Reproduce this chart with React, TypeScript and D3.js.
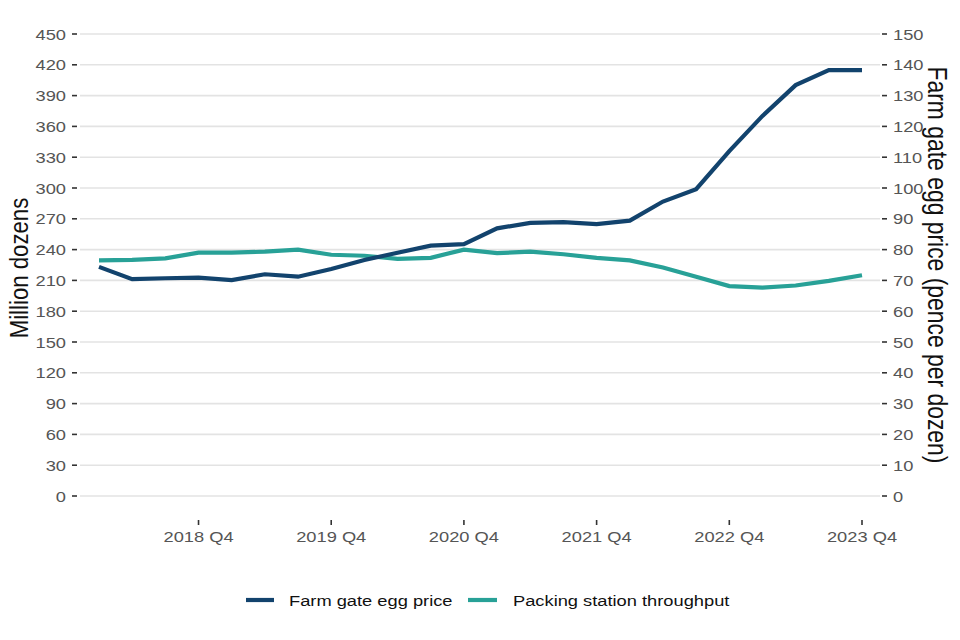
import React from "react";
import * as d3 from "d3";

const quarters = [
  "2018 Q1", "2018 Q2", "2018 Q3", "2018 Q4",
  "2019 Q1", "2019 Q2", "2019 Q3", "2019 Q4",
  "2020 Q1", "2020 Q2", "2020 Q3", "2020 Q4",
  "2021 Q1", "2021 Q2", "2021 Q3", "2021 Q4",
  "2022 Q1", "2022 Q2", "2022 Q3", "2022 Q4",
  "2023 Q1", "2023 Q2", "2023 Q3", "2023 Q4",
];

// pence per dozen (right axis)
const farmGatePrice = [
  74.4, 70.4, 70.7, 70.9,
  70.1, 72.0, 71.2, 73.7,
  76.6, 79.0, 81.3, 81.8,
  86.9, 88.7, 88.9, 88.3,
  89.4, 95.6, 99.6, 112.0,
  123.4, 133.4, 138.3, 138.3,
];

// million dozens (left axis)
const throughput = [
  229.5, 230, 231.5, 237,
  237, 238, 240, 235,
  234, 231, 232, 240,
  236.5, 238, 235.5, 232,
  229.5, 222.5, 213.5, 204.5,
  203, 205, 209.5, 215,
];

const xTickLabels = ["2018 Q4", "2019 Q4", "2020 Q4", "2021 Q4", "2022 Q4", "2023 Q4"];
const leftTicks = d3.range(0, 451, 30);
const rightTicks = d3.range(0, 151, 10);

const DARK = "#12436D";
const TEAL = "#28A197";
const FONT = "'Liberation Sans', Arial, sans-serif";
// text in the reference is a little wider than tall
const SX = 1.18;

export default function App() {
  const width = 960;
  const height = 640;
  const panel = { left: 80, right: 880 };

  const x = d3.scalePoint<string>().domain(quarters).range([99, 862]);
  const yLeft = d3.scaleLinear().domain([0, 450]).range([496, 34]);
  const yRight = d3.scaleLinear().domain([0, 150]).range([496, 34]);

  const priceLine = d3
    .line<number>()
    .x((_, i) => x(quarters[i])!)
    .y((d) => yRight(d));
  const throughputLine = d3
    .line<number>()
    .x((_, i) => x(quarters[i])!)
    .y((d) => yLeft(d));

  return (
    <svg
      width={width}
      height={height}
      style={{ position: "absolute", left: 0, top: 0, background: "#fff" }}
      fontFamily={FONT}
    >
      {/* grid */}
      {leftTicks.map((t) => (
        <line
          key={"g" + t}
          x1={panel.left}
          x2={panel.right}
          y1={yLeft(t)}
          y2={yLeft(t)}
          stroke="#e3e3e3"
          strokeWidth={1.6}
        />
      ))}

      {/* left axis */}
      {leftTicks.map((t) => (
        <g key={"l" + t}>
          <line x1={72} x2={77} y1={yLeft(t)} y2={yLeft(t)} stroke="#333" strokeWidth={1.6} />
          <text
            transform={`translate(66,${yLeft(t)}) scale(${SX},1)`}
            dy="0.36em"
            textAnchor="end"
            fontSize={15.5}
            fill="#555"
          >
            {t}
          </text>
        </g>
      ))}

      {/* right axis */}
      {rightTicks.map((t) => (
        <g key={"r" + t}>
          <line x1={882} x2={887} y1={yRight(t)} y2={yRight(t)} stroke="#333" strokeWidth={1.6} />
          <text
            transform={`translate(893,${yRight(t)}) scale(${SX},1)`}
            dy="0.36em"
            textAnchor="start"
            fontSize={15.5}
            fill="#555"
          >
            {t}
          </text>
        </g>
      ))}

      {/* bottom axis */}
      {xTickLabels.map((q) => (
        <g key={q}>
          <line x1={x(q)} x2={x(q)} y1={520} y2={525} stroke="#333" strokeWidth={1.6} />
          <text
            transform={`translate(${x(q)},541.5) scale(${SX},1)`}
            textAnchor="middle"
            fontSize={15.5}
            fill="#555"
          >
            {q}
          </text>
        </g>
      ))}

      {/* axis titles */}
      <text
        transform={`translate(28,268) scale(${SX},1) rotate(-90)`}
        textAnchor="middle"
        fontSize={22.2}
        fill="#111"
      >
        Million dozens
      </text>
      <text
        transform={`translate(928,265) scale(${SX},1) rotate(90)`}
        textAnchor="middle"
        fontSize={22.9}
        fill="#111"
      >
        Farm gate egg price (pence per dozen)
      </text>

      {/* lines */}
      <path d={throughputLine(throughput)!} fill="none" stroke={TEAL} strokeWidth={4.2} />
      <path d={priceLine(farmGatePrice)!} fill="none" stroke={DARK} strokeWidth={4.2} />

      {/* legend */}
      <line x1={246} x2={274} y1={600} y2={600} stroke={DARK} strokeWidth={4.2} />
      <text
        transform={`translate(289,600) scale(${SX},1)`}
        dy="0.36em"
        fontSize={15.5}
        fill="#111"
      >
        Farm gate egg price
      </text>
      <line x1={468} x2={497} y1={600} y2={600} stroke={TEAL} strokeWidth={4.2} />
      <text
        transform={`translate(513,600) scale(${SX},1)`}
        dy="0.36em"
        fontSize={15.5}
        fill="#111"
      >
        Packing station throughput
      </text>
    </svg>
  );
}
